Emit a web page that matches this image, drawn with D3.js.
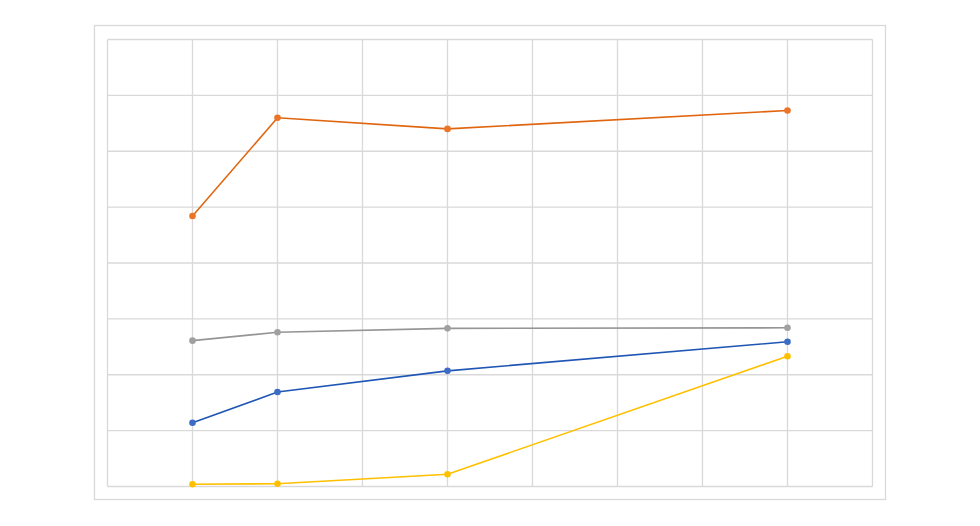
<!DOCTYPE html>
<html>
<head>
<meta charset="utf-8">
<script src="https://cdn.jsdelivr.net/npm/d3@7"></script>
<style>
html,body{margin:0;padding:0;background:#fff;}
svg{display:block;}
</style>
</head>
<body>
<svg id="chart" width="980" height="526"></svg>
<script>
const xValues = [1, 2, 4, 8];
const seriesNames = ["orange", "gray", "blue", "yellow"];
const orangeValues = [4.84, 6.60, 6.40, 6.73];
const grayValues = [2.61, 2.76, 2.83, 2.84];
const blueValues = [1.14, 1.69, 2.07, 2.59];
const yellowValues = [0.04, 0.05, 0.22, 2.33];
const xTicks = [0,1,2,3,4,5,6,7,8,9];
const yTicks = [0,1,2,3,4,5,6,7,8];

const series = [
  {values: orangeValues, line: "#E0650E", marker: "#EB7426"},
  {values: grayValues, line: "#959595", marker: "#A0A0A0"},
  {values: blueValues, line: "#1F56B4", marker: "#3D6CC4"},
  {values: yellowValues, line: "#FFC000", marker: "#FFC000"}
];

const svg = d3.select("#chart");
const pLeft = 107.5, pRight = 872.5, pTop = 39.5, pBottom = 486.5;

svg.append("rect").attr("x", 94.5).attr("y", 25.5).attr("width", 791).attr("height", 474)
  .attr("fill", "#fff").attr("stroke", "#d9d9d9").attr("stroke-width", 1.3);

const x = d3.scaleLinear().domain([0, 9]).range([pLeft, pRight]);
const y = d3.scaleLinear().domain([0, 8]).range([pBottom, pTop]);

const g = svg.append("g");
g.selectAll("line.v").data(xTicks).enter().append("line").attr("class", "v")
  .attr("x1", d => x(d)).attr("x2", d => x(d)).attr("y1", pTop).attr("y2", pBottom)
  .attr("stroke", "#d9d9d9").attr("stroke-width", 1.3);
g.selectAll("line.h").data(yTicks).enter().append("line").attr("class", "h")
  .attr("y1", d => y(d)).attr("y2", d => y(d)).attr("x1", pLeft).attr("x2", pRight)
  .attr("stroke", "#d9d9d9").attr("stroke-width", 1.3);

const lineGen = d3.line().x((d, i) => x(xValues[i])).y(d => y(d));

series.forEach(s => {
  svg.append("path").datum(s.values).attr("d", lineGen)
    .attr("fill", "none").attr("stroke", s.line).attr("stroke-width", 1.6);
  svg.append("g").selectAll("circle").data(s.values).enter().append("circle")
    .attr("cx", (d, i) => x(xValues[i])).attr("cy", d => y(d)).attr("r", 3.3)
    .attr("fill", s.marker);
});
</script>
</body>
</html>
